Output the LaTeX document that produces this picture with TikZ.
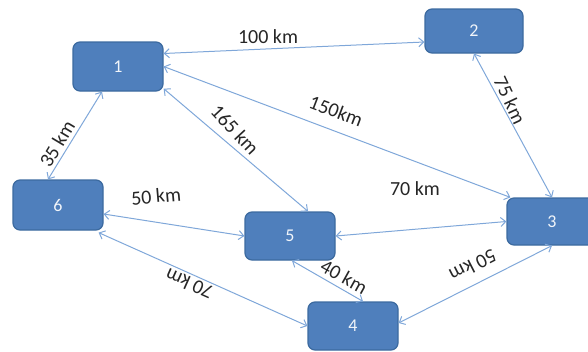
\documentclass[tikz,border=0pt]{standalone}
\usepackage{fontspec}
\setmainfont{Carlito}
\usetikzlibrary{arrows.meta}
\definecolor{boxfill}{HTML}{4F7FBC}
\definecolor{boxline}{HTML}{3C6A9F}
\definecolor{linkcol}{HTML}{7FA7D9}
\definecolor{labcol}{HTML}{262626}
\tikzset{
  site/.style={draw=boxline, line width=1.2pt, fill=boxfill, rounded corners=7pt,
    minimum width=#1, text=white!92!boxfill,
    font=\fontsize{18}{20}\selectfont, inner sep=0pt},
  link/.style={draw=linkcol, line width=1pt,
    {Straight Barb[length=5pt,width=9pt]}-{Straight Barb[length=5pt,width=9pt]}},
  dist/.style={text=labcol, font=\fontsize{20}{22}\selectfont, inner sep=0pt}
}
\begin{document}
\begin{tikzpicture}[x=1pt,y=-1pt]
\useasboundingbox (0,0) rectangle (588,351);
% depots
\node[site=90pt, minimum height=49pt] (n1) at (118,66.5) {1};
\node[site=98pt, minimum height=44pt] (n2) at (474,31) {2};
\node[site=90pt, minimum height=47pt] (n3) at (552,221.5) {3};
\node[site=90pt, minimum height=48pt] (n4) at (353,326) {4};
\node[site=90pt, minimum height=48pt] (n5) at (290,236) {5};
\node[site=90pt, minimum height=50pt] (n6) at (58,205) {6};
% routes
\draw[link] ([yshift=13pt]n1.east) -- ([yshift=-11pt]n2.west);
\draw[link] (n1.east) -- ([xshift=4pt]n3.north west);
\draw[link] ([yshift=3pt]n1.south east) -- ([xshift=18pt]n5.north);
\draw[link] ([xshift=-10pt]n6.north) -- ([xshift=-16pt]n1.south);
\draw[link] (n2.south) -- (n3.north);
\draw[link] ([yshift=-9pt]n6.east) -- (n5.west);
\draw[link] (n5.east) -- (n3.west);
\draw[link] ([xshift=-5pt,yshift=-2pt]n6.south east) -- (n4.west);
\draw[link] ([xshift=2pt]n5.south) -- ([xshift=10pt]n4.north);
\draw[link] (n3.south) -- ([yshift=3pt]n4.east);
% distances
\node[dist] (d12) at (268,37) {100 km};
\node[dist, rotate=59] (d61) at (57,144) {35 km};
\node[dist, rotate=-47] (d15) at (235,130) {165 km};
\node[dist, rotate=-21] (d13) at (336,111) {150km};
\node[dist, rotate=-65] (d23) at (510,100) {75 km};
\node[dist] (d53) at (415,189) {70 km};
\node[dist, rotate=5] (d65) at (156,196) {50 km};
\node[dist, rotate=156] (d64) at (189,284) {70 km};
\node[dist, rotate=-29] (d54) at (344,277) {40 km};
\node[dist, rotate=207] (d34) at (473,266) {50 km};
\end{tikzpicture}
\end{document}
